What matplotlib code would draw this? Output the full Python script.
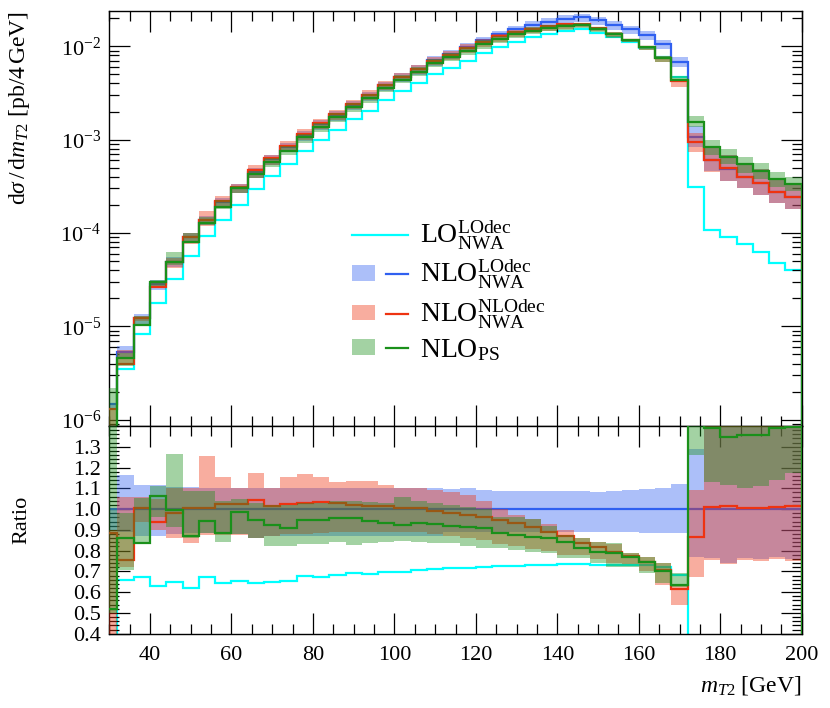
import numpy as np
import matplotlib
matplotlib.use("Agg")
import matplotlib.pyplot as plt
from matplotlib.patches import Patch
from matplotlib.lines import Line2D
from matplotlib.legend_handler import HandlerTuple
from matplotlib.ticker import (LogLocator, MultipleLocator, FixedLocator,
                               FormatStrFormatter, NullFormatter)

plt.rcParams['font.family'] = ['Liberation Serif', 'DejaVu Serif']
plt.rcParams['mathtext.fontset'] = 'custom'
plt.rcParams['mathtext.rm'] = 'Liberation Serif'
plt.rcParams['mathtext.it'] = 'Liberation Serif:italic'
plt.rcParams['mathtext.bf'] = 'Liberation Serif:bold'

# ---------------- data ----------------
bin_edges = np.arange(28, 201, 4)  # m_T2 bin edges [GeV]

# reference: NLO (LO decay), NWA  [pb / 4 GeV]
nlo_lodec = [1.47e-6, 5.30e-6, 1.23e-5, 2.83e-5, 4.95e-5, 9.14e-5, 1.37e-4, 2.16e-4, 3.06e-4, 4.53e-4,
             6.20e-4, 8.40e-4, 1.12e-3, 1.46e-3, 1.84e-3, 2.37e-3, 2.98e-3, 3.81e-3, 4.72e-3, 5.72e-3,
             7.09e-3, 8.29e-3, 9.81e-3, 1.16e-2, 1.35e-2, 1.53e-2, 1.70e-2, 1.84e-2, 1.97e-2, 2.06e-2,
             1.92e-2, 1.70e-2, 1.52e-2, 1.32e-2, 1.06e-2, 6.85e-3, 1.08e-3, 6.0e-4, 4.86e-4, 4.0e-4,
             3.4e-4, 2.75e-4, 2.41e-4]
nlo_lodec_lo = [0.90, 0.89, 0.87, 0.87, 0.88, 0.883, 0.883, 0.88, 0.88, 0.859,
                0.87, 0.87, 0.87, 0.87, 0.87, 0.87, 0.87, 0.87, 0.87, 0.87,
                0.87, 0.89, 0.89, 0.89, 0.89, 0.89, 0.89, 0.89, 0.89, 0.891,
                0.89, 0.89, 0.889, 0.886, 0.886, 0.883, 0.77, 0.763, 0.739, 0.763,
                0.758, 0.768, 0.758]
nlo_lodec_hi = [1.00, 1.164, 1.116, 1.116, 1.108, 1.108, 1.10, 1.10, 1.10, 1.10,
                1.10, 1.10, 1.10, 1.10, 1.10, 1.10, 1.10, 1.10, 1.10, 1.10,
                1.10, 1.095, 1.10, 1.092, 1.089, 1.087, 1.089, 1.089, 1.087, 1.087,
                1.084, 1.089, 1.092, 1.097, 1.103, 1.119, 1.29, 1.42, 1.42, 1.42,
                1.42, 1.42, 1.42]

# ratios to NLO(LOdec)
lo_lodec_ratio = [np.nan, 0.659, 0.675, 0.631, 0.651, 0.622, 0.675, 0.643, 0.655, 0.646,
                  0.651, 0.655, 0.679, 0.675, 0.683, 0.694, 0.688, 0.699, 0.696, 0.707,
                  0.710, 0.715, 0.718, 0.723, 0.726, 0.728, 0.731, 0.731, 0.734, 0.736,
                  0.731, 0.731, 0.731, 0.731, 0.723, 0.683, 0.29, 0.18, 0.185, 0.189,
                  0.183, 0.175, 0.167]

nlo_nlodec_ratio = [0.883, 0.755, 1.004, 0.939, 0.983, 1.004, 1.004, 1.024, 1.024, 1.044,
                    1.015, 1.024, 1.028, 1.036, 1.031, 1.020, 1.015, 1.015, 1.004, 1.004,
                    0.992, 0.983, 0.971, 0.960, 0.947, 0.931, 0.912, 0.891, 0.870, 0.838,
                    0.816, 0.795, 0.774, 0.747, 0.707, 0.614, 0.864, 1.008, 1.015, 1.004,
                    1.004, 1.008, 1.015]
nlo_nlodec_lo = [0.35, 0.72, 0.94, 0.90, 0.859, 0.835, 0.875, 0.875, 0.875, 0.859,
                 0.87, 0.88, 0.88, 0.885, 0.89, 0.89, 0.89, 0.89, 0.89, 0.89,
                 0.88, 0.87, 0.86, 0.85, 0.83, 0.82, 0.81, 0.80, 0.78, 0.78,
                 0.76, 0.74, 0.735, 0.70, 0.635, 0.538, 0.675, 0.755, 0.735, 0.755,
                 0.75, 0.76, 0.75]
nlo_nlodec_hi = [0.90, 1.06, 1.06, 1.05, 1.10, 1.10, 1.257, 1.153, 1.103, 1.172,
                 1.103, 1.153, 1.167, 1.153, 1.132, 1.135, 1.137, 1.116, 1.103, 1.100,
                 1.092, 1.084, 1.07, 1.04, 1.00, 0.97, 0.95, 0.93, 0.90, 0.86,
                 0.84, 0.83, 0.79, 0.77, 0.74, 0.634, 1.092, 1.42, 1.42, 1.42,
                 1.42, 1.42, 1.42]

nlo_ps_ratio = [0.52, 0.859, 0.838, 1.063, 0.996, 0.870, 0.944, 0.883, 0.984, 0.947,
                0.923, 0.907, 0.947, 0.947, 0.955, 0.955, 0.944, 0.931, 0.923, 0.935,
                0.928, 0.919, 0.915, 0.907, 0.886, 0.875, 0.867, 0.859, 0.843, 0.811,
                0.795, 0.790, 0.768, 0.747, 0.703, 0.634, 1.44, 1.389, 1.349, 1.357,
                1.357, 1.389, 1.397]
nlo_ps_lo = [0.50, 0.707, 0.835, 0.96, 0.915, 0.86, 0.883, 0.843, 0.88, 0.86,
             0.824, 0.82, 0.83, 0.83, 0.84, 0.827, 0.838, 0.843, 0.848, 0.843,
             0.838, 0.835, 0.824, 0.814, 0.811, 0.803, 0.795, 0.787, 0.763, 0.763,
             0.739, 0.723, 0.723, 0.690, 0.642, 0.626, 1.26, 1.132, 1.116, 1.10,
             1.111, 1.14, 1.172]
nlo_ps_hi = [1.5, 0.98, 1.052, 1.11, 1.264, 1.087, 1.087, 1.04, 1.05, 1.03,
             1.02, 1.02, 1.03, 1.03, 1.04, 1.04, 1.036, 1.03, 1.056, 1.04,
             1.03, 1.02, 1.01, 1.0, 0.964, 0.96, 0.95, 0.92, 0.875, 0.86,
             0.843, 0.835, 0.79, 0.77, 0.742, 0.694, 1.65, 1.65, 1.65, 1.65,
             1.65, 1.65, 1.65]

labels = [r'LO$_{\mathrm{NWA}}^{\mathrm{LOdec}}$',
          r'NLO$_{\mathrm{NWA}}^{\mathrm{LOdec}}$',
          r'NLO$_{\mathrm{NWA}}^{\mathrm{NLOdec}}$',
          r'NLO$_{\mathrm{PS}}$']

# ---------------- style ----------------
c_lo = '#00ffff'
c_blue = '#3060f0'
c_red = '#ee3311'
c_green = '#1a901a'
band_alpha = 0.4
lw = 1.6

fig = plt.figure(figsize=(8.3, 7.08), dpi=100)
ax1 = fig.add_axes([0.1317, 0.3983, 0.8342, 0.5862])
ax2 = fig.add_axes([0.1317, 0.1050, 0.8342, 0.2933], sharex=ax1)

ref = np.array(nlo_lodec)

series = [
    (nlo_lodec_lo, nlo_lodec_hi, np.ones(len(ref)), c_blue, 2),
    (nlo_nlodec_lo, nlo_nlodec_hi, nlo_nlodec_ratio, c_red, 4),
    (nlo_ps_lo, nlo_ps_hi, nlo_ps_ratio, c_green, 6),
]

# LO line (no band)
ax1.stairs(ref * np.array(lo_lodec_ratio), bin_edges, color=c_lo, lw=lw, zorder=1)
ax2.stairs(np.array(lo_lodec_ratio), bin_edges, color=c_lo, lw=lw, zorder=1)

for lo, hi, cen, col, z in series:
    lo = np.array(lo); hi = np.array(hi); cen = np.array(cen)
    ax1.stairs(ref * hi, bin_edges, baseline=ref * lo, fill=True, color=col,
               alpha=band_alpha, lw=0, zorder=z)
    ax1.stairs(ref * cen, bin_edges, color=col, lw=lw, zorder=z + 0.5)
    ax2.stairs(hi, bin_edges, baseline=lo, fill=True, color=col,
               alpha=band_alpha, lw=0, zorder=z)
    ax2.stairs(cen, bin_edges, color=col, lw=lw, zorder=z + 0.5)

# ---------------- axes ----------------
ax1.set_yscale('log')
ax1.set_ylim(8.57e-7, 2.39e-2)
ax1.set_xlim(30, 200)
ax2.set_ylim(0.4, 1.4)

for ax in (ax1, ax2):
    ax.tick_params(which='both', direction='in', top=True, right=True,
                   labelsize=16, width=0.9)
    ax.tick_params(which='major', length=15)
    ax.tick_params(which='minor', length=7)
    ax.xaxis.set_major_locator(MultipleLocator(20))
    ax.xaxis.set_minor_locator(MultipleLocator(5))
    for s in ax.spines.values():
        s.set_linewidth(1.0)

ax1.yaxis.set_major_locator(LogLocator(base=10, numticks=20))
ax1.yaxis.set_minor_locator(LogLocator(base=10, subs=np.arange(2, 10), numticks=20))
ax1.yaxis.set_minor_formatter(NullFormatter())
ax1.tick_params(axis='x', labelbottom=False)
ax1.tick_params(axis='y', pad=6)

ax2.yaxis.set_major_locator(FixedLocator([0.4, 0.5, 0.6, 0.7, 0.8, 0.9, 1.0, 1.1, 1.2, 1.3]))
ax2.yaxis.set_minor_locator(MultipleLocator(0.02))
ax2.yaxis.set_major_formatter(FormatStrFormatter('%.1f'))
ax2.tick_params(axis='x', pad=9)
ax2.tick_params(axis='y', pad=6)

ax1.set_ylabel(r'd$\sigma\,/\,$d$m_{T2}$ [pb/4$\,$GeV]', fontsize=17, loc='top')
ax1.yaxis.set_label_coords(-0.112, 1.0)
ax2.set_ylabel('Ratio', fontsize=16)
ax2.yaxis.set_label_coords(-0.112, 0.55)
ax2.set_xlabel(r'$m_{T2}$ [GeV]', fontsize=17, loc='right')
ax2.xaxis.set_label_coords(1.0, -0.195)

# ---------------- legend ----------------
handles = [Line2D([], [], color=c_lo, lw=lw)]
for col in (c_blue, c_red, c_green):
    handles.append((Patch(facecolor=col, alpha=band_alpha, lw=0),
                    Line2D([], [], color=col, lw=lw)))
ax1.legend(handles, labels, loc='upper left', bbox_to_anchor=(0.315, 0.56),
           frameon=False, fontsize=20, handlelength=2.0, handleheight=0.5,
           labelspacing=0.22, handletextpad=0.45,
           handler_map={tuple: HandlerTuple(ndivide=None)})

fig.savefig('out.png', dpi=100)
